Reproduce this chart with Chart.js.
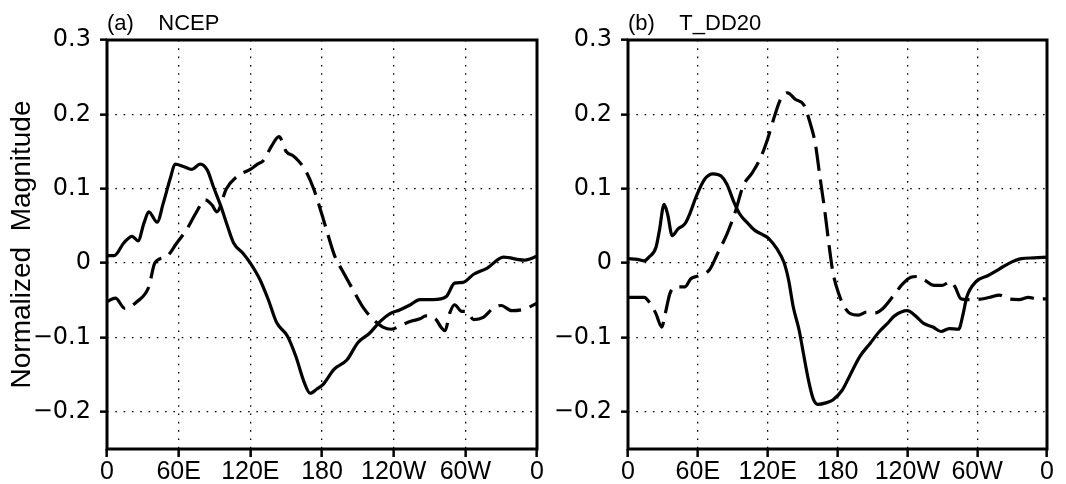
<!DOCTYPE html>
<html>
<head>
<meta charset="utf-8">
<script src="https://cdn.jsdelivr.net/npm/chart.js@4.4.1/dist/chart.umd.min.js"></script>
<style>
  html, body { margin: 0; padding: 0; background: #fff; width: 1066px; height: 484px; overflow: hidden; }
  canvas { position: absolute; top: 0; }
  #panelA { left: 0; }
  #panelB { left: 545px; }
</style>
</head>
<body>
<canvas id="panelA" width="545" height="484"></canvas>
<canvas id="panelB" width="521" height="484"></canvas>
<script>
// Longitude axis (degrees east from 0) and its labels
const xTickValues = [0, 60, 120, 180, 240, 300, 360];
const xTickLabels = ['0', '60E', '120E', '180', '120W', '60W', '0'];
const yTickValues = [-0.2, -0.1, 0, 0.1, 0.2, 0.3];
const yTickLabels = ['\u22120.2', '\u22120.1', '0', '0.1', '0.2', '0.3'];
const panelTitles = ['(a)    NCEP', '(b)    T_DD20'];
const yAxisTitle = 'Normalized  Magnitude';

// (a) NCEP — solid curve
const ncepSolidLon = [0, 6, 14, 21, 26, 31, 35, 42, 47, 53, 57, 64, 71, 78, 84, 89, 95, 100, 106, 114, 120, 128, 135, 142, 151, 158, 165, 170, 176, 181, 190, 201, 210, 220, 229, 237, 245, 254, 262, 273, 284, 291, 298, 307, 318, 332, 349, 360];
const ncepSolidVal = [0.010, 0.010, 0.027, 0.036, 0.030, 0.054, 0.069, 0.055, 0.080, 0.114, 0.133, 0.130, 0.126, 0.133, 0.125, 0.103, 0.078, 0.054, 0.027, 0.013, 0.000, -0.022, -0.049, -0.080, -0.098, -0.125, -0.160, -0.175, -0.169, -0.163, -0.143, -0.130, -0.107, -0.094, -0.078, -0.068, -0.063, -0.056, -0.049, -0.049, -0.045, -0.027, -0.026, -0.015, -0.007, 0.008, 0.004, 0.009];

// (a) NCEP — dashed curve
const ncepDashLon = [0, 7, 15, 25, 35, 40, 50, 58, 67, 75, 82, 88, 92, 100, 110, 120, 126, 131, 138, 144, 150, 156, 160, 166, 173, 180, 185, 191, 197, 206, 215, 223, 231, 238, 247, 255, 262, 267, 275, 280, 283, 287, 291, 297, 301, 307, 315, 323, 330, 339, 349, 360];
const ncepDashVal = [-0.052, -0.047, -0.061, -0.052, -0.032, 0.000, 0.009, 0.026, 0.046, 0.069, 0.085, 0.078, 0.069, 0.100, 0.118, 0.126, 0.133, 0.138, 0.158, 0.170, 0.150, 0.144, 0.138, 0.125, 0.100, 0.065, 0.038, 0.008, -0.010, -0.036, -0.061, -0.076, -0.086, -0.089, -0.083, -0.078, -0.075, -0.071, -0.075, -0.087, -0.091, -0.067, -0.056, -0.065, -0.065, -0.076, -0.073, -0.061, -0.057, -0.064, -0.062, -0.054];

// (b) T_DD20 — solid curve
const tddSolidLon = [0, 8, 14, 18, 24, 27, 31, 34, 38, 43, 49, 53, 59, 66, 73, 80, 85, 91, 96, 102, 109, 116, 121, 128, 134, 138, 142, 147, 151, 155, 159, 163, 170, 176, 184, 191, 199, 208, 216, 223, 229, 240, 247, 254, 262, 269, 276, 284, 288, 291, 299, 309, 319, 329, 338, 349, 360];
const tddSolidVal = [0.006, 0.005, 0.003, 0.008, 0.021, 0.044, 0.079, 0.066, 0.037, 0.046, 0.053, 0.066, 0.091, 0.113, 0.120, 0.117, 0.106, 0.082, 0.066, 0.055, 0.044, 0.038, 0.033, 0.019, 0.001, -0.023, -0.059, -0.090, -0.124, -0.157, -0.182, -0.190, -0.188, -0.184, -0.171, -0.150, -0.126, -0.108, -0.092, -0.081, -0.071, -0.064, -0.071, -0.081, -0.086, -0.092, -0.088, -0.089, -0.068, -0.046, -0.025, -0.017, -0.008, 0.001, 0.006, 0.007, 0.008];

// (b) T_DD20 — dashed curve
const tddDashLon = [0, 14, 18, 24, 29, 32, 36, 41, 49, 54, 61, 70, 77, 85, 92, 99, 107, 114, 120, 126, 131, 137, 144, 151, 156, 161, 165, 169, 173, 176, 181, 186, 191, 198, 205, 212, 219, 227, 236, 243, 248, 255, 263, 270, 277, 281, 286, 291, 299, 311, 319, 327, 336, 344, 351, 360];
const tddDashVal = [-0.046, -0.046, -0.052, -0.068, -0.086, -0.068, -0.041, -0.032, -0.032, -0.021, -0.017, -0.009, 0.013, 0.039, 0.068, 0.104, 0.122, 0.142, 0.167, 0.198, 0.220, 0.229, 0.220, 0.213, 0.191, 0.160, 0.115, 0.071, 0.021, -0.012, -0.041, -0.059, -0.068, -0.070, -0.066, -0.067, -0.061, -0.046, -0.028, -0.019, -0.018, -0.023, -0.030, -0.030, -0.025, -0.032, -0.048, -0.049, -0.049, -0.046, -0.043, -0.048, -0.049, -0.046, -0.048, -0.048];

const GRID_DOTS = [1.6, 6.7];
const LINE_DASH = [24, 9];

function pairs(lon, val) {
  return lon.map((x, i) => ({ x: x, y: val[i] }));
}

function curve(lon, val, dashed) {
  return {
    data: pairs(lon, val),
    borderColor: '#000',
    borderWidth: 3.2,
    borderDash: dashed ? LINE_DASH : [],
    borderCapStyle: 'butt',
    borderJoinStyle: 'round',
    pointRadius: 0,
    fill: false,
    cubicInterpolationMode: 'monotone'
  };
}

// Thick frame around the plot area plus the panel caption above it
const framePlugin = {
  id: 'frame',
  afterDraw(chart, args, opts) {
    const { ctx, chartArea: a } = chart;
    ctx.save();
    ctx.setLineDash([]);
    ctx.strokeStyle = '#000';
    ctx.lineWidth = 3;
    ctx.strokeRect(a.left, a.top, a.right - a.left, a.bottom - a.top);
    ctx.fillStyle = '#000';
    ctx.font = '22px "Liberation Sans", Arial, sans-serif';
    ctx.textAlign = 'left';
    ctx.textBaseline = 'alphabetic';
    ctx.fillText(opts.caption, a.left, 29.5);
    ctx.restore();
  }
};

function makePanel(canvasId, caption, datasets, axisWidth, rightPad, showTitle) {
  return new Chart(document.getElementById(canvasId), {
    type: 'line',
    data: { datasets: datasets },
    options: {
      responsive: false,
      animation: false,
      devicePixelRatio: 1,
      layout: { padding: { top: 40, right: rightPad, left: 0, bottom: 0 } },
      plugins: {
        legend: { display: false },
        tooltip: { enabled: false },
        frame: { caption: caption }
      },
      scales: {
        x: {
          type: 'linear',
          min: 0,
          max: 360,
          afterBuildTicks: s => { s.ticks = xTickValues.map(v => ({ value: v })); },
          afterFit: s => { s.height = 35; },
          ticks: {
            autoSkip: false,
            maxRotation: 0,
            minRotation: 0,
            padding: 0,
            color: '#000',
            font: { family: '"Liberation Sans", Arial, sans-serif', size: 25 },
            callback: (v, i) => xTickLabels[i]
          },
          grid: {
            color: '#000',
            lineWidth: 1.3,
            drawTicks: true,
            tickLength: 8,
            tickColor: '#000',
            tickWidth: 2.5,
            tickBorderDash: []
          },
          border: { display: false, dash: GRID_DOTS }
        },
        y: {
          type: 'linear',
          min: -0.25,
          max: 0.3,
          afterBuildTicks: s => { s.ticks = yTickValues.map(v => ({ value: v })); },
          afterFit: s => { s.width = axisWidth; },
          ticks: {
            padding: 9,
            color: '#000',
            font: { family: '"DejaVu Sans", sans-serif', size: 24 },
            callback: (v, i) => yTickLabels[i]
          },
          grid: {
            color: '#000',
            lineWidth: 1.3,
            drawTicks: true,
            tickLength: 7,
            tickColor: '#000',
            tickWidth: 2.5,
            tickBorderDash: []
          },
          border: { display: false, dash: GRID_DOTS },
          title: {
            display: showTitle,
            text: yAxisTitle,
            color: '#000',
            font: { family: '"Liberation Sans", Arial, sans-serif', size: 28 },
            padding: { top: 5, bottom: 0 }
          }
        }
      }
    },
    plugins: [framePlugin]
  });
}

makePanel('panelA', panelTitles[0], [
  curve(ncepSolidLon, ncepSolidVal, false),
  curve(ncepDashLon, ncepDashVal, true)
], 107, 8, true);

makePanel('panelB', panelTitles[1], [
  curve(tddSolidLon, tddSolidVal, false),
  curve(tddDashLon, tddDashVal, true)
], 83, 19, false);
</script>
</body>
</html>
